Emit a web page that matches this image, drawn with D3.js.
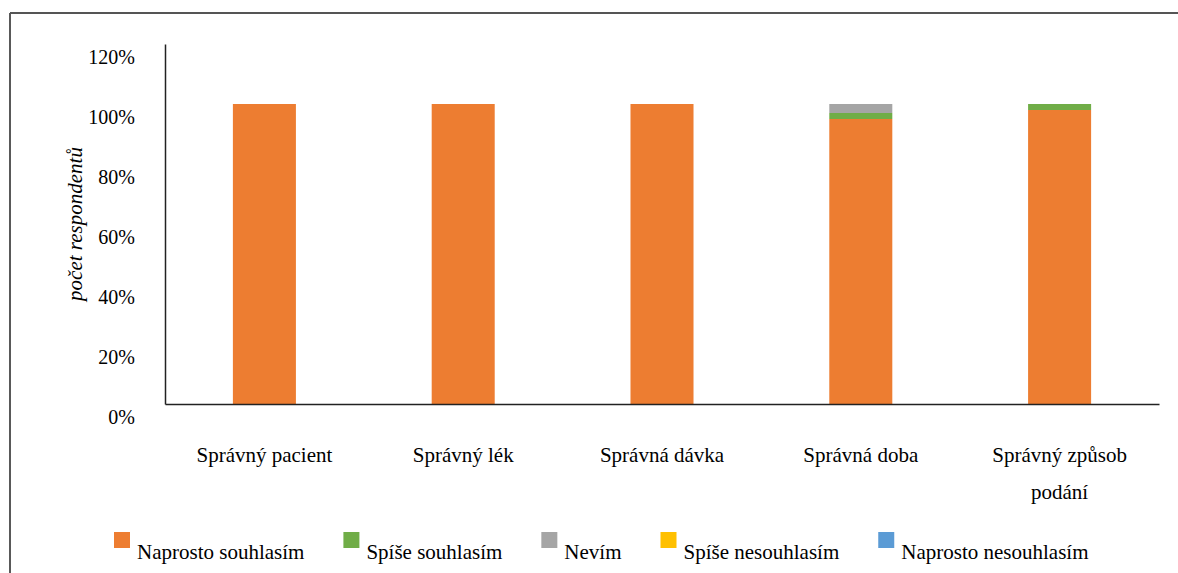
<!DOCTYPE html>
<html>
<head>
<meta charset="utf-8">
<script src="https://cdn.jsdelivr.net/npm/d3@7"></script>
<style>
  html, body { margin: 0; padding: 0; background: #fff; }
  svg { display: block; }
  svg text { font-family: 'Liberation Serif', 'Times New Roman', serif; }
</style>
</head>
<body>
<svg id="chart" width="1178" height="573" font-family="Liberation Serif"></svg>
<script>
// ---- data ----
const categories = ["Správný pacient", "Správný lék", "Správná dávka", "Správná doba", "Správný způsob\npodání"];
const seriesNames = ["Naprosto souhlasím", "Spíše souhlasím", "Nevím", "Spíše nesouhlasím", "Naprosto nesouhlasím"];
const seriesColors = ["#ED7D31", "#70AD47", "#A5A5A5", "#FFC000", "#5B9BD5"];
const naprostoSouhlasim = [100, 100, 100, 95, 98];
const spiseSouhlasim = [0, 0, 0, 2, 2];
const nevim = [0, 0, 0, 3, 0];
const spiseNesouhlasim = [0, 0, 0, 0, 0];
const naprostoNesouhlasim = [0, 0, 0, 0, 0];
const yTicks = [0, 20, 40, 60, 80, 100, 120];
const yTitle = "počet respondentů";

(function () {
const FONT = "Liberation Serif";
const seriesValues = [naprostoSouhlasim, spiseSouhlasim, nevim, spiseNesouhlasim, naprostoNesouhlasim];
const table = categories.map((c, i) => {
  const row = { cat: c };
  seriesNames.forEach((s, j) => row[s] = seriesValues[j][i]);
  return row;
});

const svg = d3.select("#chart");

// frame
svg.append("line").attr("x1", 10).attr("x2", 10).attr("y1", 13).attr("y2", 573)
  .attr("stroke", "#222").attr("stroke-width", 1.5);
svg.append("line").attr("x1", 10).attr("x2", 1178).attr("y1", 13).attr("y2", 13)
  .attr("stroke", "#555").attr("stroke-width", 2);

const mLeft = 165, mRight = 1159, mTop = 44, mBottom = 404;
const x = d3.scaleBand().domain(categories).range([mLeft, mRight]).paddingInner(0.683).paddingOuter(0.3415);
const y = d3.scaleLinear().domain([0, 120]).range([mBottom, mTop]);

const stack = d3.stack().keys(seriesNames)(table);

svg.append("g").selectAll("g").data(stack).join("g")
  .attr("fill", (d, i) => seriesColors[i])
  .selectAll("rect").data(d => d.filter(p => p[1] - p[0] > 0)).join("rect")
  .attr("x", d => x(d.data.cat))
  .attr("width", x.bandwidth())
  .attr("y", d => y(d[1]))
  .attr("height", d => y(d[0]) - y(d[1]));

// y axis
const yAxis = d3.axisLeft(y).tickValues(yTicks).tickSize(0).tickPadding(30).tickFormat(d => d + "%");
const gy = svg.append("g").attr("transform", `translate(${mLeft},0)`).call(yAxis)
  .attr("font-family", FONT);
gy.select(".domain").attr("stroke", "#222").attr("stroke-width", 1.5);
gy.selectAll(".tick text").attr("font-size", 20)
  .attr("fill", "#000").attr("dy", "0.32em").attr("transform", "translate(0,13)");

// x axis
const xAxis = d3.axisBottom(x).tickSize(0).tickFormat("");
const gx = svg.append("g").attr("transform", `translate(0,${mBottom})`).call(xAxis)
  .attr("font-family", FONT);
gx.select(".domain").attr("stroke", "#222").attr("stroke-width", 1.5);
gx.selectAll(".tick").each(function(d) {
  const lines = d.split("\n");
  const t = d3.select(this).append("text")
    .attr("font-size", 21).attr("text-anchor", "middle").attr("fill", "#000");
  lines.forEach((l, k) => {
    t.append("tspan").attr("x", 0).attr("y", 58 + k * 37).text(l);
  });
});

// y title
svg.append("text")
  .attr("transform", "translate(82,224) rotate(-90)")
  .attr("text-anchor", "middle")
  .attr("font-size", 21).attr("font-style", "italic")
  .text(yTitle);

// legend
const lg = svg.append("g");
let lx = 114;
seriesNames.forEach((s, i) => {
  lg.append("rect").attr("x", lx).attr("y", 532).attr("width", 16).attr("height", 16).attr("fill", seriesColors[i]);
  const t = lg.append("text").attr("x", lx + 23).attr("y", 559).attr("font-size", 21).text(s);
  lx += 23 + t.node().getComputedTextLength() + 39;
});
})();
</script>
</body>
</html>
